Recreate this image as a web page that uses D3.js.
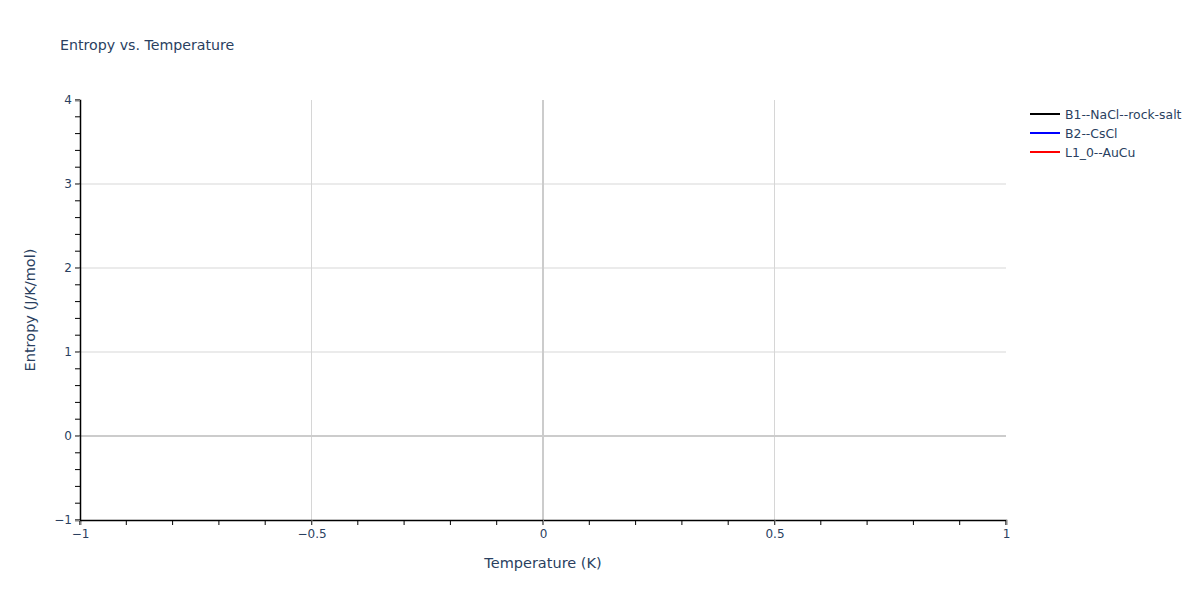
<!DOCTYPE html>
<html><head><meta charset="utf-8">
<script src="https://cdn.jsdelivr.net/npm/d3@7"></script>
<style>body{margin:0;background:#fff}text{font-family:"DejaVu Sans",verdana,arial,sans-serif}</style>
</head><body><svg id="c" width="1200" height="600"></svg>
<script>
const title = "Entropy vs. Temperature";
const xLabel = "Temperature (K)";
const yLabel = "Entropy (J/K/mol)";
const xDomain = [-1, 1];
const yDomain = [-1, 4];
const xTicks = [-1, -0.5, 0, 0.5, 1];
const yTicks = [-1, 0, 1, 2, 3, 4];
const seriesNames = ["B1--NaCl--rock-salt", "B2--CsCl", "L1_0--AuCu"];
const seriesColors = ["#000000", "#0000ff", "#ff0000"];
const seriesData = [[], [], []];

const FONT = '"DejaVu Sans",verdana,arial,sans-serif';
const svg = d3.select("#c");
const m = {l: 80, r: 194, t: 100, b: 80};
const W = 1200, H = 600;
const x = d3.scaleLinear().domain(xDomain).range([m.l, W - m.r]);
const y = d3.scaleLinear().domain(yDomain).range([H - m.b, m.t]);
const fmt = d => d < 0 ? "\u2212" + Math.abs(d) : String(d);

// grid
svg.append("g").selectAll("line").data(yTicks.filter(v => v !== 0 && v !== yDomain[0] && v !== yDomain[1]))
  .join("line").attr("x1", m.l).attr("x2", W - m.r).attr("y1", d => y(d)).attr("y2", d => y(d))
  .attr("stroke", "#ebebeb").attr("stroke-width", 2);
svg.append("g").selectAll("line").data(xTicks.filter(v => v !== 0 && v !== xDomain[0] && v !== xDomain[1]))
  .join("line").attr("y1", m.t).attr("y2", H - m.b).attr("x1", d => x(d)).attr("x2", d => x(d))
  .attr("stroke", "#d6d6d6").attr("stroke-width", 1);
// zero lines
svg.append("line").attr("x1", m.l).attr("x2", W - m.r).attr("y1", y(0)).attr("y2", y(0))
  .attr("stroke", "#cccccc").attr("stroke-width", 2);
svg.append("line").attr("y1", m.t).attr("y2", H - m.b).attr("x1", x(0)).attr("x2", x(0))
  .attr("stroke", "#cccccc").attr("stroke-width", 2);

// series lines (empty data)
const line = d3.line().x(d => x(d[0])).y(d => y(d[1]));
seriesData.forEach((s, i) => svg.append("path").datum(s).attr("d", line)
  .attr("fill", "none").attr("stroke", seriesColors[i]).attr("stroke-width", 2));

// minor ticks
const xMinor = d3.range(-10, 11).map(v => v / 10);
const yMinor = d3.range(-5, 21).map(v => v / 5);
svg.append("g").selectAll("line").data(xMinor).join("line")
  .attr("x1", d => x(d)).attr("x2", d => x(d)).attr("y1", H - m.b).attr("y2", H - m.b + 5)
  .attr("stroke", "#000").attr("stroke-width", 1);
svg.append("g").selectAll("line").data(yMinor).join("line")
  .attr("y1", d => y(d)).attr("y2", d => y(d)).attr("x1", m.l - 5).attr("x2", m.l)
  .attr("stroke", "#000").attr("stroke-width", 1);

// axes
const xAxis = svg.append("g").attr("transform", `translate(0,${H - m.b})`)
  .call(d3.axisBottom(x).tickValues(xTicks).tickFormat(fmt).tickSize(5).tickPadding(4));
const yAxis = svg.append("g").attr("transform", `translate(${m.l},0)`)
  .call(d3.axisLeft(y).tickValues(yTicks).tickFormat(fmt).tickSize(5).tickPadding(3));
[xAxis, yAxis].forEach(a => {
  a.select(".domain").attr("stroke", "#000").attr("stroke-width", 1.5);
  a.selectAll(".tick line").attr("stroke", "#888").attr("stroke-width", 1);
  a.selectAll(".tick text").attr("fill", "#2a3f5f").attr("font-size", 12).style("font-family", FONT);
});

// titles
svg.append("text").attr("x", 60).attr("y", 50).text(title)
  .attr("fill", "#2a3f5f").attr("font-size", 14.2);
svg.append("text").attr("x", x(0)).attr("y", 568).attr("text-anchor", "middle").text(xLabel)
  .attr("fill", "#2a3f5f").attr("font-size", 14.5);
svg.append("text").attr("transform", `translate(35,${y(1.5)}) rotate(-90)`).attr("text-anchor", "middle")
  .text(yLabel).attr("fill", "#2a3f5f").attr("font-size", 14.5);

// legend
const lg = svg.append("g").attr("transform", "translate(1030,114)");
seriesNames.forEach((n, i) => {
  const g = lg.append("g").attr("transform", `translate(0,${i * 19})`);
  g.append("line").attr("x1", 0).attr("x2", 30).attr("y1", 0).attr("y2", 0)
    .attr("stroke", seriesColors[i]).attr("stroke-width", 2);
  g.append("text").attr("x", 35).attr("y", 4.5).text(n).attr("fill", "#2a3f5f").attr("font-size", 12.4);
});
</script></body></html>
